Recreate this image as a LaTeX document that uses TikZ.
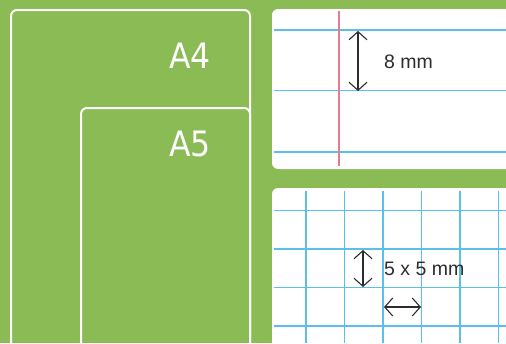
\documentclass[tikz,border=0pt]{standalone}
\usepackage{fontspec}
\setmainfont{Liberation Sans}
\newfontfamily\sheetfont{DejaVu Sans Condensed}
\usetikzlibrary{arrows.meta}

\begin{document}
\begin{tikzpicture}[x=1pt,y=-1pt]
	\definecolor{leafgreen}{RGB}{138,187,84}
	\definecolor{ruleblue}{RGB}{92,190,235}
	\definecolor{marginred}{RGB}{226,125,140}
	\definecolor{inkgrey}{RGB}{45,45,45}
	\tikzset{
		sheet/.style={draw=white, line width=2pt, rounded corners=6pt},
		paper/.style={fill=white, rounded corners=6pt},
		rule/.style={color=ruleblue, line width=1.5pt},
		measure/.style={color=inkgrey, line width=1.1pt, {Straight Barb[length=8pt,width=18pt]}-{Straight Barb[length=8pt,width=18pt]}},
		sizelabel/.style={text=white, font=\sheetfont\fontsize{35}{35}\selectfont},
		mmlabel/.style={text=inkgrey, font=\fontsize{19.5}{20}\selectfont, anchor=west, inner sep=0pt}
	}
	\useasboundingbox (0,0) rectangle (506,343);
	\fill[leafgreen] (0,0) rectangle (506,343);
	\clip (0,0) rectangle (506,343);

	% sheets
	\draw[sheet] (11,360) |- (250,10) -- (250,360);
	\draw[sheet] (81,360) |- (250,108) -- (250,360);
	\node[sizelabel] (afour) at (190,55.5) {A4};
	\node[sizelabel] (afive) at (190,144) {A5};

	% lined paper
	\fill[paper] (272,9) rectangle (530,169);
	\foreach \y in {30,90.5,152}
		\draw[rule] (274,\y) -- (506,\y);
	\draw[marginred, line width=1.5pt] (339,11) -- (339,166);
	\coordinate (linetop) at (358,31);
	\coordinate (linebot) at (358,91);
	\draw[measure] (linetop) -- (linebot);
	\node[mmlabel] (linegap) at (384,61.5) {8 mm};

	% squared paper
	\fill[paper] (272,188) rectangle (530,360);
	\foreach \x in {306,344.5,383,421.5,460,498.5}
		\draw[rule] (\x,191) -- (\x,343);
	\foreach \y in {210.5,249,287.5,326}
		\draw[rule] (274,\y) -- (506,\y);
	\coordinate (boxtop) at (363,250);
	\coordinate (boxbot) at (363,287);
	\coordinate (boxleft) at (384,307);
	\coordinate (boxright) at (421,307);
	\draw[measure] (boxtop) -- (boxbot);
	\draw[measure] (boxleft) -- (boxright);
	\node[mmlabel] (boxsize) at (384,269) {5 x 5 mm};
\end{tikzpicture}
\end{document}
